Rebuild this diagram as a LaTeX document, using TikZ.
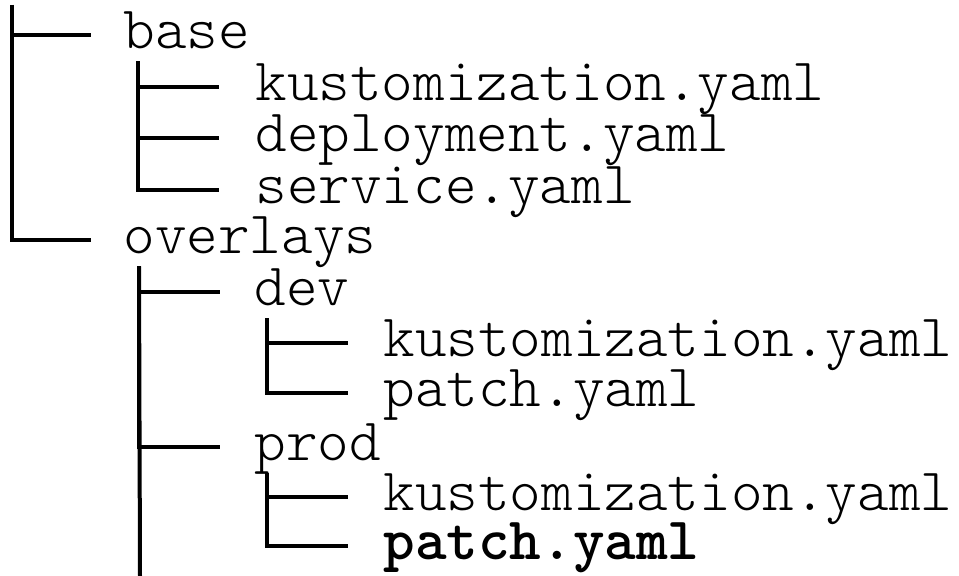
\documentclass[tikz,border=0pt]{standalone}
\usepackage{fontspec}
\usepackage{tikz}
\usetikzlibrary{positioning,calc}

\tikzset{
  item/.style={anchor=west, inner sep=0pt, text height=19pt, text depth=5pt,
    font=\ttfamily\fontseries{l}\fontsize{30.1pt}{30.1pt}\selectfont},
  tree/.style={line width=2pt},
}

\begin{document}
\begin{tikzpicture}[x=0.5pt, y=-0.5pt]
  \useasboundingbox (0,0) rectangle (959,576);
  % top level
  \node (base) [item] at (123,35) {base};
  \node (bkust) [item] at (255,87) {kustomization.yaml};
  \node (bdep) [item] at (255,138) {deployment.yaml};
  \node (bsvc) [item] at (255,190) {service.yaml};
  \node (overlays) [item] at (123,240) {overlays};
  \node (dev) [item] at (254,292) {dev};
  \node (devkust) [item] at (383,343) {kustomization.yaml};
  \node (devpatch) [item] at (383,393) {patch.yaml};
  \node (prod) [item] at (254,447) {prod};
  \node (prodkust) [item] at (383,497) {kustomization.yaml};
  \node (prodpatch) [item] at (383,546) {\fontseries{b}\selectfont patch.yaml};

  % stems
  \coordinate (rstem) at (12,5);
  \coordinate (bstem) at ([xshift=7.5pt,yshift=-1pt]base.south west);
  \coordinate (ostem) at ([xshift=8pt,yshift=-1pt]overlays.south west);
  \coordinate (oend) at (140,576);
  \coordinate (dstem) at ([xshift=6.5pt,yshift=-1pt]dev.south west);
  \coordinate (pstem) at ([xshift=6.5pt,yshift=-1pt]prod.south west);

  \foreach \f in {base,overlays}
    \draw[tree] (rstem) |- ([xshift=-16pt]\f.west);
  \foreach \f in {bkust,bdep,bsvc}
    \draw[tree] (bstem) |- ([xshift=-18pt]\f.west);
  \draw[tree] (ostem) -- (oend);
  \foreach \f in {dev,prod}
    \draw[tree] (ostem) |- ([xshift=-17pt]\f.west);
  \foreach \f in {devkust,devpatch}
    \draw[tree] (dstem) |- ([xshift=-17.5pt]\f.west);
  \foreach \f in {prodkust,prodpatch}
    \draw[tree] (pstem) |- ([xshift=-17.5pt]\f.west);
\end{tikzpicture}
\end{document}
